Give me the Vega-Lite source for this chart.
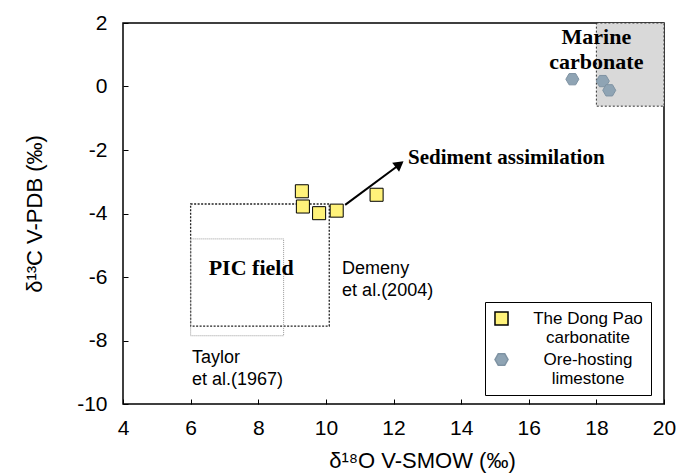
{
  "$schema": "https://vega.github.io/schema/vega-lite/v6.json",
  "width": 541,
  "height": 381,
  "autosize": {"type": "none"},
  "padding": {"left": 123, "top": 23, "right": 20, "bottom": 71},
  "background": "white",
  "config": {
    "view": {"stroke": "#000", "strokeWidth": 1.5},
    "axis": {
      "domain": false,
      "grid": false,
      "labelFlush": false,
      "tickColor": "#000",
      "tickSize": -5,
      "tickWidth": 1,
      "labelFont": "Liberation Sans",
      "labelFontSize": 21,
      "labelColor": "#000",
      "labelExpr": "'' + datum.value",
      "titleFont": "Liberation Sans",
      "titleFontSize": 22,
      "titleFontWeight": "normal",
      "titleColor": "#000"
    },
    "legend": {
      "orient": "none",
      "legendX": 362,
      "legendY": 279,
      "strokeColor": "#000",
      "fillColor": "white",
      "padding": 8,
      "labelFont": "Liberation Sans",
      "labelFontSize": 17,
      "labelColor": "#000",
      "labelLimit": 300,
      "symbolSize": 170,
      "rowPadding": 4
    }
  },
  "layer": [
    {
      "data": {"values": [{"x1": 18, "x2": 20, "y1": -0.62, "y2": 2}]},
      "mark": {"type": "rect", "fill": "#d9d9d9", "stroke": "#333", "strokeWidth": 1, "strokeDash": [2, 2]},
      "encoding": {
        "x": {"field": "x1", "type": "quantitative", "scale": {"domain": [4, 20]}, "axis": {"values": [4, 6, 8, 10, 12, 14, 16, 18, 20], "title": "δ¹⁸O V-SMOW (‰)", "labelPadding": 18, "titlePadding": 12, "titleX": 299}},
        "x2": {"field": "x2"},
        "y": {"field": "y1", "type": "quantitative", "scale": {"domain": [-10, 2]}, "axis": {"values": [-10, -8, -6, -4, -2, 0, 2], "title": "δ¹³C V-PDB (‰)", "labelPadding": 21, "titlePadding": 30}},
        "y2": {"field": "y2"}
      }
    },
    {
      "data": {"values": [{"x1": 6, "x2": 10.1, "y1": -7.55, "y2": -3.7}]},
      "mark": {"type": "rect", "fill": "transparent", "stroke": "#222", "strokeWidth": 1.3, "strokeDash": [2, 1.5]},
      "encoding": {
        "x": {"field": "x1", "type": "quantitative"},
        "x2": {"field": "x2"},
        "y": {"field": "y1", "type": "quantitative"},
        "y2": {"field": "y2"}
      }
    },
    {
      "data": {"values": [{"x1": 6, "x2": 8.75, "y1": -7.85, "y2": -4.8}]},
      "mark": {"type": "rect", "fill": "transparent", "stroke": "#999", "strokeWidth": 1, "strokeDash": [1, 1]},
      "encoding": {
        "x": {"field": "x1", "type": "quantitative"},
        "x2": {"field": "x2"},
        "y": {"field": "y1", "type": "quantitative"},
        "y2": {"field": "y2"}
      }
    },
    {
      "data": {"values": [{"x1": 10.57, "y1": -3.73, "x2": 12.1, "y2": -2.52}]},
      "mark": {"type": "rule", "color": "#000", "strokeWidth": 2},
      "encoding": {
        "x": {"field": "x1", "type": "quantitative"},
        "y": {"field": "y1", "type": "quantitative"},
        "x2": {"field": "x2"},
        "y2": {"field": "y2"}
      }
    },
    {
      "data": {"values": [{"x": 12.18, "y": -2.45}]},
      "mark": {"type": "point", "shape": "triangle-up", "filled": true, "color": "#000", "size": 130, "angle": 53, "opacity": 1},
      "encoding": {
        "x": {"field": "x", "type": "quantitative"},
        "y": {"field": "y", "type": "quantitative"}
      }
    },
    {
      "data": {"values": [
        {"o": 9.29, "c": -3.3, "type": "The Dong Pao carbonatite"},
        {"o": 9.32, "c": -3.78, "type": "The Dong Pao carbonatite"},
        {"o": 9.8, "c": -3.99, "type": "The Dong Pao carbonatite"},
        {"o": 10.32, "c": -3.91, "type": "The Dong Pao carbonatite"},
        {"o": 11.5, "c": -3.41, "type": "The Dong Pao carbonatite"},
        {"o": 17.29, "c": 0.23, "type": "Ore-hosting limestone"},
        {"o": 18.19, "c": 0.17, "type": "Ore-hosting limestone"},
        {"o": 18.38, "c": -0.12, "type": "Ore-hosting limestone"}
      ]},
      "mark": {"type": "point", "filled": true, "opacity": 1, "strokeWidth": 1, "size": 170},
      "encoding": {
        "x": {"field": "o", "type": "quantitative"},
        "y": {"field": "c", "type": "quantitative"},
        "color": {"field": "type", "type": "nominal", "scale": {"domain": ["The Dong Pao carbonatite", "Ore-hosting limestone"], "range": ["#fff27a", "#8fa4b4"]}, "legend": {"title": null, "labelAlign": "center", "labelOffset": 78, "labelExpr": "datum.label == 'The Dong Pao carbonatite' ? ['  The Dong Pao  ', '  carbonatite  '] : ['  Ore-hosting  ', '  limestone  ']"}},
        "shape": {"field": "type", "type": "nominal", "scale": {"domain": ["The Dong Pao carbonatite", "Ore-hosting limestone"], "range": ["square", "M-1,0L-0.5,-0.866L0.5,-0.866L1,0L0.5,0.866L-0.5,0.866Z"]}, "legend": {"title": null, "labelAlign": "center", "labelOffset": 78, "labelExpr": "datum.label == 'The Dong Pao carbonatite' ? ['  The Dong Pao  ', '  carbonatite  '] : ['  Ore-hosting  ', '  limestone  ']"}},
        "stroke": {"field": "type", "type": "nominal", "scale": {"domain": ["The Dong Pao carbonatite", "Ore-hosting limestone"], "range": ["#000", "#7f93a3"]}, "legend": {"title": null, "labelAlign": "center", "labelOffset": 78, "labelExpr": "datum.label == 'The Dong Pao carbonatite' ? ['  The Dong Pao  ', '  carbonatite  '] : ['  Ore-hosting  ', '  limestone  ']"}}
      }
    },
    {
      "data": {"values": [
        {"x": 12.43, "y": -2.24, "t": "Sediment assimilation"}
      ]},
      "mark": {"type": "text", "font": "Liberation Serif", "fontWeight": "bold", "fontSize": 21, "align": "left", "baseline": "middle", "color": "#000"},
      "encoding": {
        "x": {"field": "x", "type": "quantitative"},
        "y": {"field": "y", "type": "quantitative"},
        "text": {"field": "t"}
      }
    },
    {
      "data": {"values": [
        {"x": 18.0, "y": 1.56, "t": "Marine"},
        {"x": 18.0, "y": 0.77, "t": "carbonate"}
      ]},
      "mark": {"type": "text", "font": "Liberation Serif", "fontWeight": "bold", "fontSize": 22, "align": "center", "baseline": "middle", "color": "#000"},
      "encoding": {
        "x": {"field": "x", "type": "quantitative"},
        "y": {"field": "y", "type": "quantitative"},
        "text": {"field": "t"}
      }
    },
    {
      "data": {"values": [
        {"x": 7.79, "y": -5.72, "t": "PIC field"}
      ]},
      "mark": {"type": "text", "font": "Liberation Serif", "fontWeight": "bold", "fontSize": 22, "align": "center", "baseline": "middle", "color": "#000"},
      "encoding": {
        "x": {"field": "x", "type": "quantitative"},
        "y": {"field": "y", "type": "quantitative"},
        "text": {"field": "t"}
      }
    },
    {
      "data": {"values": [
        {"x": 10.48, "y": -5.75, "t": "Demeny"},
        {"x": 10.48, "y": -6.45, "t": "et al.(2004)"},
        {"x": 6.04, "y": -8.54, "t": "Taylor"},
        {"x": 6.04, "y": -9.23, "t": "et al.(1967)"}
      ]},
      "mark": {"type": "text", "font": "Liberation Sans", "fontSize": 18, "align": "left", "baseline": "middle", "color": "#000"},
      "encoding": {
        "x": {"field": "x", "type": "quantitative"},
        "y": {"field": "y", "type": "quantitative"},
        "text": {"field": "t"}
      }
    }
  ]
}
